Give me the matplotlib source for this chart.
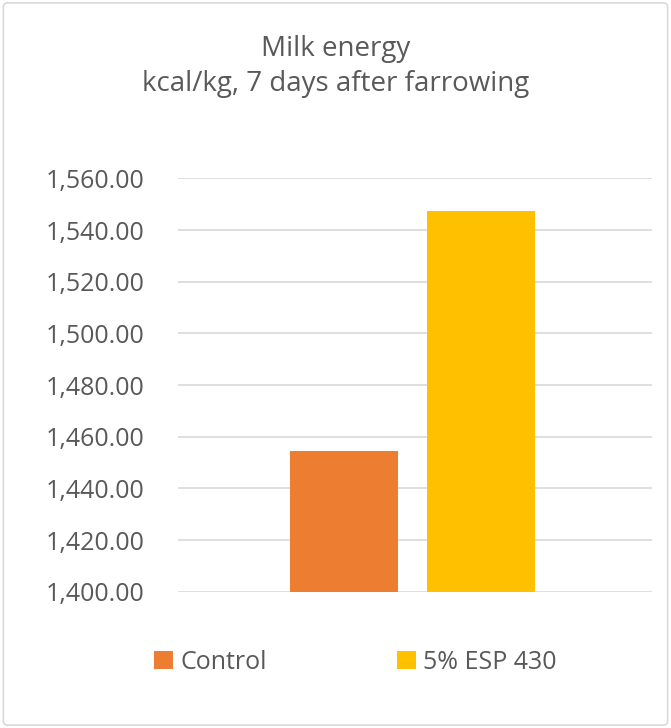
import matplotlib
matplotlib.use("Agg")
from matplotlib import pyplot as plt
from matplotlib.patches import FancyBboxPatch
from matplotlib.ticker import FuncFormatter

series = ["Control", "5% ESP 430"]
values = [1454.4, 1547.3]
colors = ["#ED7D31", "#FFC000"]
title = "Milk energy\nkcal/kg, 7 days after farrowing"
y_ticks = [1400, 1420, 1440, 1460, 1480, 1500, 1520, 1540, 1560]

text_color = "#595959"
plt.rcParams['font.family'] = ['Open Sans', 'DejaVu Sans']

fig = plt.figure(figsize=(6.71, 7.28), dpi=100)
fig.patch.set_facecolor("white")

# outer chart border
border = FancyBboxPatch((0.005, 0.004), 0.99, 0.992, boxstyle="round,pad=0,rounding_size=0.006",
                        transform=fig.transFigure, fill=False, edgecolor="#D9D9D9", linewidth=1.2)
fig.patches.append(border)

ax = fig.add_axes([0.265, 0.187, 0.707, 0.568])

bar_w = 0.228
gap = 0.061
offsets = [-(bar_w + gap) / 2, (bar_w + gap) / 2]
for off, val, col, name in zip(offsets, values, colors, series):
    ax.bar(-0.006 + off, val - y_ticks[0], bottom=y_ticks[0], width=bar_w, color=col, label=name, zorder=3)

ax.set_xlim(-0.5, 0.5)
ax.set_ylim(y_ticks[0], y_ticks[-1])
ax.set_yticks(y_ticks)
ax.yaxis.set_major_formatter(FuncFormatter(lambda v, p: f"{v:,.2f}"))
ax.set_xticks([])
ax.grid(axis="y", color="#D9D9D9", linewidth=1.2, zorder=0)
for s in ax.spines.values():
    s.set_visible(False)
ax.tick_params(axis="y", length=0, pad=24, labelsize=18, labelcolor=text_color)

fig.text(0.5, 0.909, title, ha="center", va="center", fontsize=20, color=text_color, linespacing=1.35)

fig.legend(loc="center", bbox_to_anchor=(0.53, 0.09), ncol=2, frameon=False, fontsize=18,
           labelcolor=text_color, handlelength=0.75, handleheight=0.75, handletextpad=0.3, columnspacing=5.2)

fig.savefig("out.png", dpi=100)
